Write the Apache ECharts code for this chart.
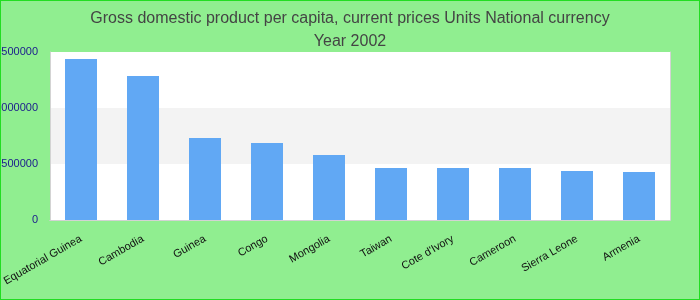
<!DOCTYPE html>
<html>
<head>
<meta charset="utf-8">
<script src="https://cdn.jsdelivr.net/npm/echarts@6/dist/echarts.min.js"></script>
<style>
html,body{margin:0;padding:0;background:#90EE90;}
#wrap{width:700px;height:300px;box-sizing:border-box;border:1px solid #22dd22;position:relative;overflow:hidden;}
#chart{position:absolute;left:-1px;top:-1px;width:700px;height:300px;}
</style>
</head>
<body>
<div id="wrap"><div id="chart"></div></div>
<script>
var titleText = 'Gross domestic product per capita, current prices Units National currency\nYear 2002';
var categories = ['Equatorial Guinea','Cambodia','Guinea','Congo','Mongolia','Taiwan',"Cote d'Ivory",'Cameroon','Sierra Leone','Armenia'];
var values = [1437000, 1286000, 732000, 687000, 580000, 464000, 464000, 464000, 437000, 429000];
var yMax = 1500000;
var yInterval = 500000;

var borderLine = {show: true, lineStyle: {color: '#d3d3d3', width: 1}};
var chart = echarts.init(document.getElementById('chart'));
chart.setOption({
  backgroundColor: 'transparent',
  animation: false,
  title: {
    text: titleText,
    left: 'center',
    top: 2,
    textStyle: {fontFamily: 'Liberation Sans, Arial, sans-serif', fontSize: 16, fontWeight: 'normal', color: '#444', lineHeight: 23}
  },
  grid: {left: 50, right: 30, top: 52, bottom: 80, containLabel: false, outerBoundsMode: 'none', show: true, backgroundColor: '#fff', borderWidth: 0},
  xAxis: [{
    type: 'category',
    data: categories,
    axisLine: borderLine,
    axisTick: {show: false},
    axisLabel: {rotate: 30, interval: 0, fontSize: 11, color: '#111', fontFamily: 'Liberation Sans, Arial, sans-serif', margin: 18, hideOverlap: false}
  }, {
    type: 'category',
    position: 'top',
    data: categories,
    axisLine: borderLine,
    axisTick: {show: false},
    axisLabel: {show: false}
  }],
  yAxis: [{
    type: 'value',
    min: 0,
    max: yMax,
    interval: yInterval,
    axisLine: borderLine,
    axisTick: {show: false},
    splitLine: {show: false},
    splitArea: {show: true, areaStyle: {color: ['#ffffff', '#f3f3f3']}},
    axisLabel: {fontSize: 11, color: '#1a1a8c', fontFamily: 'Liberation Sans, Arial, sans-serif', margin: 12, formatter: function (v) { return String(v); }}
  }, {
    type: 'value',
    position: 'right',
    min: 0,
    max: yMax,
    interval: yInterval,
    axisLine: borderLine,
    axisTick: {show: false},
    splitLine: {show: false},
    axisLabel: {show: false}
  }],
  series: [{
    type: 'bar',
    data: values,
    barWidth: 32,
    itemStyle: {color: '#61a8f4'}
  }]
});
</script>
</body>
</html>
